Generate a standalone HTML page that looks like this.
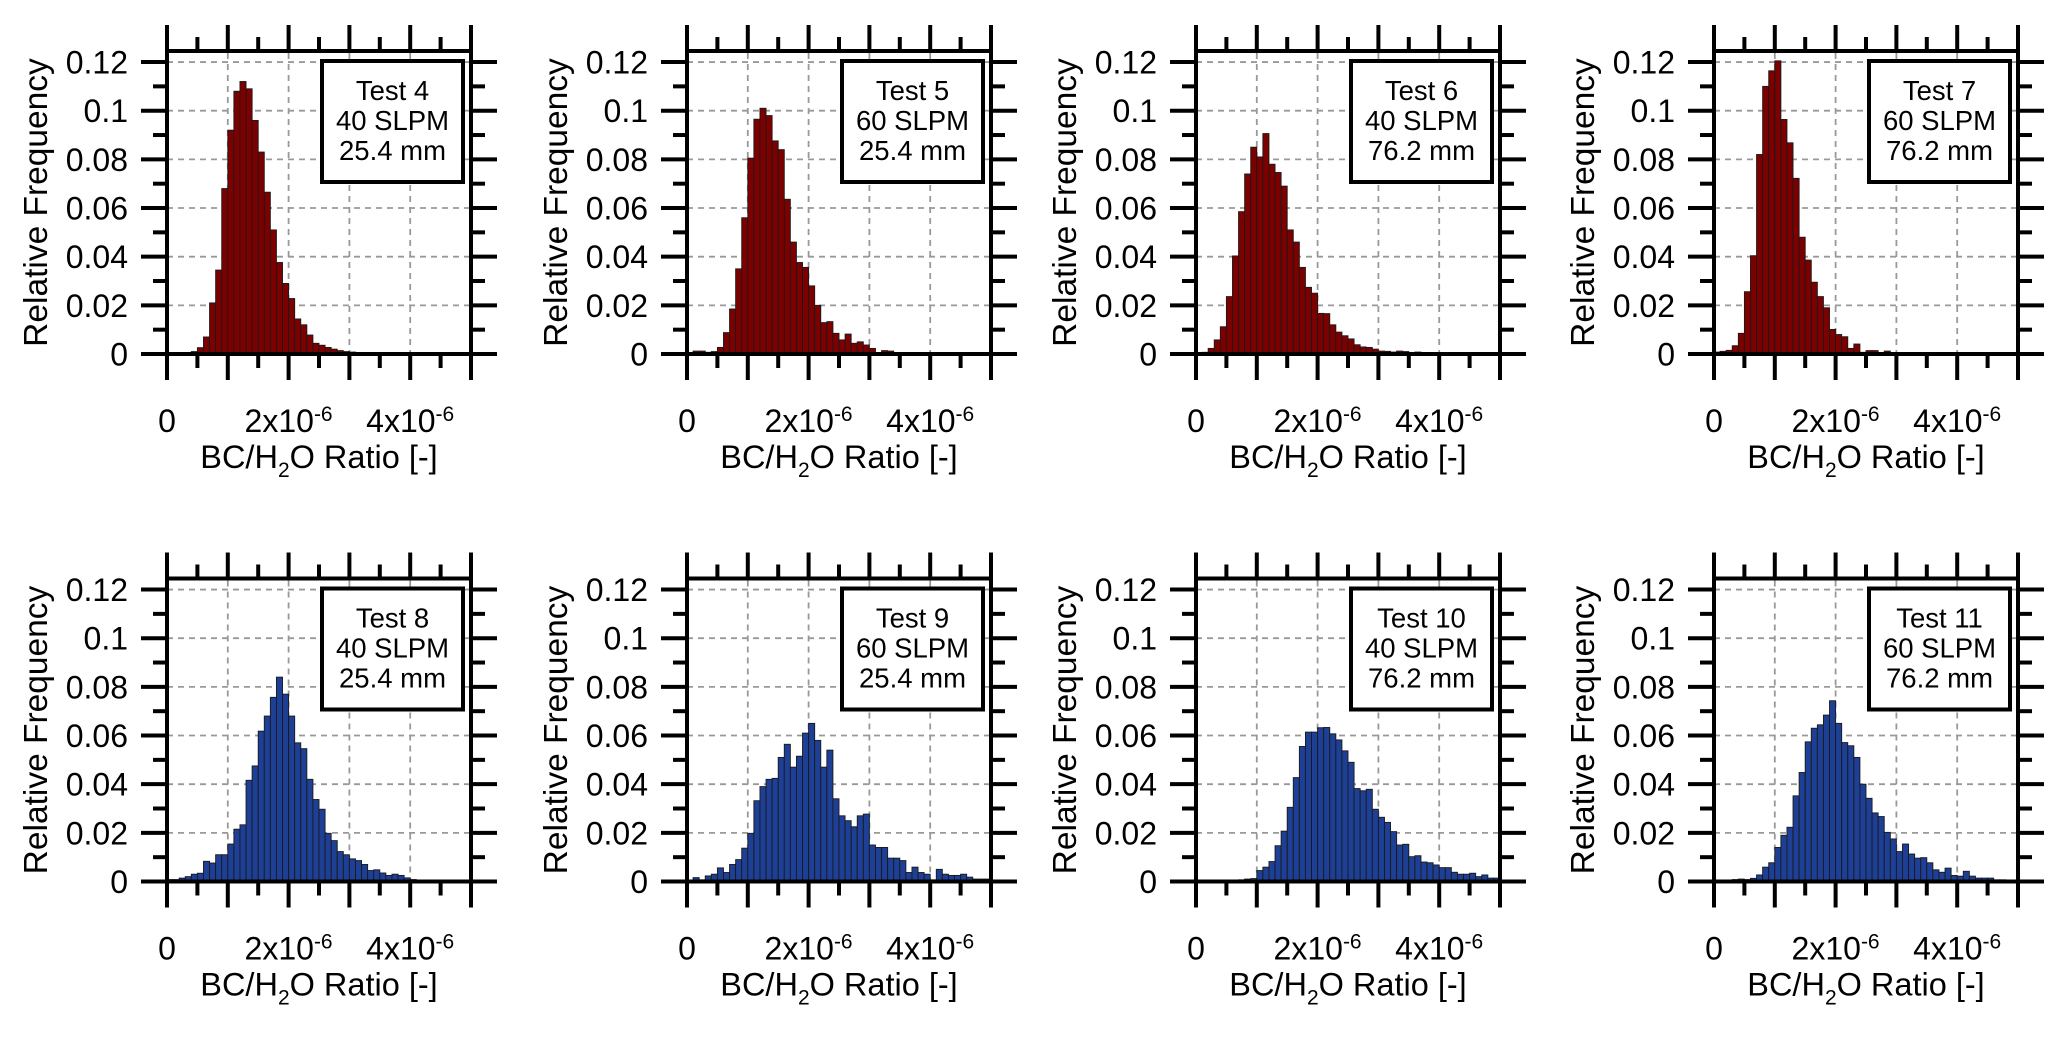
<!DOCTYPE html>
<html><head><meta charset="utf-8">
<style>
html,body{margin:0;padding:0;background:#fff;}
svg{display:block;font-family:"Liberation Sans",Arial,sans-serif;}
</style></head>
<body>
<svg id="chart" width="2068" height="1039" viewBox="0 0 2068 1039" xmlns="http://www.w3.org/2000/svg"></svg>
<script>
const xTicks = [0, 2e-6, 4e-6];
const xTickLabels = ["0", "2x10", "4x10"];
const yTicks = [0, 0.02, 0.04, 0.06, 0.08, 0.1, 0.12];
const yTickLabels = ["0", "0.02", "0.04", "0.06", "0.08", "0.1", "0.12"];
const binWidth = 1e-7;
const testNames = ["Test 4","Test 5","Test 6","Test 7","Test 8","Test 9","Test 10","Test 11"];
const flowRates = ["40 SLPM","60 SLPM","40 SLPM","60 SLPM","40 SLPM","60 SLPM","40 SLPM","60 SLPM"];
const diameters = ["25.4 mm","25.4 mm","76.2 mm","76.2 mm","25.4 mm","25.4 mm","76.2 mm","76.2 mm"];
const test4 = [0,0.0002,0.0003,0,0.001,0.0026,0.007,0.021,0.0345,0.068,0.092,0.108,0.112,0.109,0.096,0.083,0.0665,0.051,0.0376,0.029,0.0228,0.0144,0.012,0.0078,0.0044,0.0036,0.0027,0.002,0.0014,0.001,0.0008,0.0006,0.0004,0.0003,0.0003,0.0003,0.0002,0.0002,0.0002,0.0002,0.0002,0,0,0,0,0,0,0,0,0];
const test5 = [0,0.0012,0.0012,0.0007,0.001,0.0027,0.0088,0.0185,0.035,0.056,0.0805,0.0965,0.101,0.098,0.0876,0.084,0.0636,0.046,0.0376,0.0356,0.028,0.02,0.0129,0.0133,0.0085,0.0058,0.0082,0.0044,0.005,0.0037,0.0023,0.0005,0.0014,0.0012,0.0005,0.0004,0.0005,0.0005,0.0004,0.0005,0.0004,0.0003,0.0002,0.0004,0.0003,0.0003,0.0002,0.0003,0.0002,0.0002];
const test6 = [0.0004,0.0007,0.0023,0.0058,0.0112,0.0236,0.0403,0.0585,0.074,0.085,0.081,0.0906,0.078,0.0746,0.069,0.051,0.046,0.0356,0.0274,0.025,0.0167,0.0166,0.012,0.009,0.0075,0.0062,0.0038,0.0029,0.0027,0.002,0.0012,0.0011,0.0008,0.0012,0.001,0.0005,0.0008,0.0005,0.0004,0.0005,0.0003,0.0004,0.0003,0.0003,0.0002,0.0002,0.0002,0.0001,0.0001,0.0001];
const test7 = [0.0008,0.0011,0.0015,0.0034,0.0085,0.0256,0.0404,0.082,0.11,0.1164,0.1205,0.0964,0.0868,0.0722,0.048,0.0386,0.0295,0.0236,0.019,0.0101,0.008,0.0071,0.0023,0.0041,0.0007,0.0014,0.0014,0.0004,0.0012,0.0003,0.0003,0.0003,0.0003,0.0003,0.0003,0.0005,0.0003,0.0003,0.0003,0.0002,0.0003,0.0002,0,0,0,0,0,0,0,0];
const test8 = [0.0008,0.0008,0.0014,0.002,0.003,0.0034,0.0083,0.0076,0.011,0.011,0.0154,0.0215,0.0233,0.0416,0.0475,0.0618,0.068,0.0757,0.084,0.077,0.068,0.057,0.0546,0.042,0.0337,0.0297,0.0198,0.0168,0.0123,0.011,0.0093,0.0086,0.007,0.0045,0.0048,0.0035,0.0025,0.003,0.0025,0.0015,0.0008,0.0006,0.0005,0.0005,0.0005,0.0004,0.0004,0.0004,0.0005,0.0004];
const test9 = [0,0.0016,0.0007,0.0023,0.003,0.0056,0.0037,0.007,0.009,0.0137,0.0198,0.0332,0.039,0.042,0.0424,0.051,0.0564,0.047,0.0515,0.061,0.065,0.058,0.047,0.054,0.034,0.027,0.025,0.0225,0.027,0.0277,0.015,0.014,0.014,0.0096,0.0096,0.0086,0.0037,0.0059,0.0037,0.003,0.0007,0.005,0.003,0.0025,0.0025,0.003,0.0018,0.001,0.001,0.001];
const test10 = [0,0,0,0,0.0002,0.0003,0.0005,0.0007,0.001,0.0012,0.0045,0.0059,0.0082,0.0147,0.0207,0.0305,0.0427,0.0555,0.0614,0.0614,0.0632,0.0633,0.0607,0.0582,0.0537,0.049,0.0382,0.0373,0.0379,0.0297,0.0264,0.0243,0.0205,0.015,0.0153,0.0102,0.0106,0.008,0.0077,0.0068,0.0057,0.0057,0.0038,0.003,0.003,0.0034,0.002,0.0027,0.0014,0.0014];
const test11 = [0.0001,0.0002,0.0002,0.0008,0.001,0.0008,0.0013,0.0027,0.0059,0.0077,0.014,0.019,0.0223,0.0352,0.0448,0.0574,0.063,0.0644,0.0684,0.0743,0.065,0.0571,0.0558,0.051,0.04,0.0342,0.0282,0.0267,0.0202,0.0175,0.0123,0.0154,0.0113,0.0096,0.0098,0.0077,0.0048,0.0038,0.0055,0.0025,0.0022,0.0042,0.0022,0.0014,0.0014,0.0014,0.0007,0.0007,0.0003,0.0003];
const seriesList = [test4,test5,test6,test7,test8,test9,test10,test11];
const barColors = ["#7d0000","#7d0000","#7d0000","#7d0000","#1d3f96","#1d3f96","#1d3f96","#1d3f96"];

const NS = "http://www.w3.org/2000/svg";
const svg = document.getElementById("chart");
const panelLefts = [167, 687, 1196, 1714];
const rowZero = [354, 881.5];
const PW = 304, YMAX_PX = 2433 * 0.12, XMAX = 5e-6, YMAX = 0.12;

function mk(tag, attrs, parent) {
  const e = document.createElementNS(NS, tag);
  for (const k in attrs) e.setAttribute(k, attrs[k]);
  parent.appendChild(e);
  return e;
}

seriesList.forEach((data, i) => {
  const L = panelLefts[i % 4];
  const Y0 = rowZero[Math.floor(i / 4)];
  const T = Y0 - 303;
  const R = L + PW;
  const xs = v => L + v / XMAX * PW;
  const ys = v => Y0 - v / YMAX * YMAX_PX;
  const g = mk("g", {}, svg);
  
  

  const grid = mk("g", {stroke: "#999", "stroke-width": 1.8, "stroke-dasharray": "6 5"}, g);
  
  
  for (let k = 1; k <= 4; k++) {
    const x = xs(k * 1e-6);
    mk("line", {x1: x, x2: x, y1: T + 2, y2: Y0}, grid);
  }
  yTicks.forEach(v => { if (v > 0) { const y = ys(v); mk("line", {x1: L, x2: R, y1: y, y2: y}, grid); } });

  const bars = mk("g", {fill: barColors[i], stroke: "#1a1a1a", "stroke-width": 0.9}, g);
  
  
  data.forEach((v, b) => {
    if (v <= 0) return;
    const x1 = xs(b * binWidth), x2 = xs((b + 1) * binWidth);
    const r = mk("rect", {x: x1, y: ys(v), width: x2 - x1, height: Y0 - ys(v)}, bars);
    
    
  });

  const ax = mk("g", {stroke: "#000", "stroke-width": 4, fill: "none", "stroke-linecap": "butt"}, g);
  
  
  mk("line", {x1: L, x2: R, y1: T, y2: T}, ax);
  mk("line", {x1: L, x2: L, y1: T - 26, y2: Y0 + 26}, ax);
  mk("line", {x1: R, x2: R, y1: T - 26, y2: Y0 + 26}, ax);
  mk("line", {x1: L - 26, x2: R + 26, y1: Y0, y2: Y0}, ax);
  for (let k = 1; k < 10; k++) {
    const x = xs(k * 0.5e-6);
    const len = k % 2 === 0 ? 26 : 14;
    mk("line", {x1: x, x2: x, y1: Y0, y2: Y0 + len}, ax);
    mk("line", {x1: x, x2: x, y1: T, y2: T - len}, ax);
  }
  for (let k = 1; k <= 12; k++) {
    const y = ys(k * 0.01);
    const len = k % 2 === 0 ? 26 : 14;
    mk("line", {x1: L - len, x2: L, y1: y, y2: y}, ax);
    mk("line", {x1: R, x2: R + len, y1: y, y2: y}, ax);
  }

  yTicks.forEach((v, k) => {
    const t = mk("text", {x: L - 39, y: ys(v) + 11.5, "font-size": 32, "text-anchor": "end"}, g);
    t.textContent = yTickLabels[k];
    
    
  });
  xTicks.forEach((v, k) => {
    const t = mk("text", {x: xs(v), y: Y0 + 78, "font-size": 32, "text-anchor": "middle"}, g);
    t.textContent = xTickLabels[k];
    if (v !== 0) {
      const s = mk("tspan", {"font-size": 21, dy: -11}, t);
      s.textContent = "-6";
    }
    
    
  });
  const xt = mk("text", {x: L + 152, y: Y0 + 114, "font-size": 32.5, "text-anchor": "middle"}, g);
  
  
  xt.appendChild(document.createTextNode("BC/H"));
  const sub = mk("tspan", {"font-size": 21, dy: 9}, xt); sub.textContent = "2";
  const rest = mk("tspan", {dy: -9}, xt); rest.textContent = "O Ratio [-]";
  const cy = (T + Y0) / 2;
  const yt = mk("text", {x: L - 120, y: cy, "font-size": 33.5, "text-anchor": "middle", transform: "rotate(-90 " + (L - 120) + " " + cy + ")"}, g);
  yt.textContent = "Relative Frequency";
  
  

  const lg = mk("g", {}, g);
  
  
  mk("rect", {x: L + 155, y: T + 10, width: 141, height: 121, fill: "#fff", stroke: "#000", "stroke-width": 4}, lg);
  [testNames[i], flowRates[i], diameters[i]].forEach((s, k) => {
    const t = mk("text", {x: L + 225.5, y: T + 49 + k * 30, "font-size": 27.5, "text-anchor": "middle"}, lg);
    t.textContent = s;
    
    
  });
});
</script>
</body></html>
